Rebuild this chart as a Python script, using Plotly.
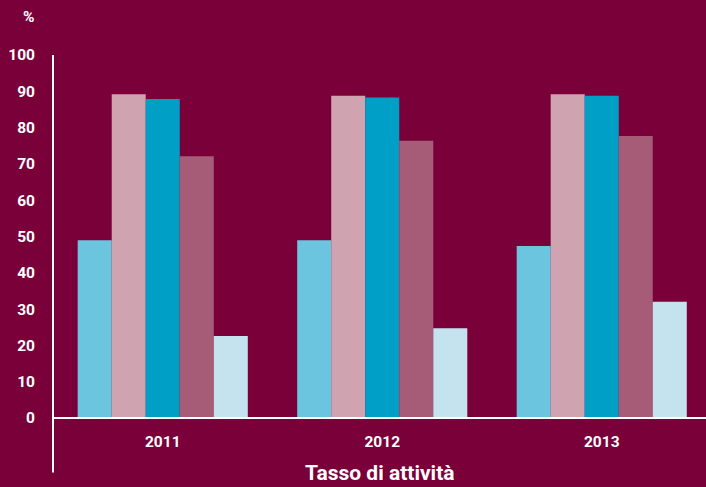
import plotly.graph_objects as go

# Activity rate (%) by year, five population groups
years = ["2011", "2012", "2013"]
group_a = [49.0, 49.0, 47.4]
group_b = [89.2, 88.8, 89.2]
group_c = [87.9, 88.3, 88.8]
group_d = [72.1, 76.4, 77.7]
group_e = [22.6, 24.7, 32.0]

series = [group_a, group_b, group_c, group_d, group_e]
colors = ["#6cc5de", "#d0a3b0", "#009fc5", "#a65c77", "#c5e3ee"]
y_ticks = list(range(0, 101, 10))

BG = "#7a0039"
FONT = "Roboto"

fig = go.Figure()
for vals, col in zip(series, colors):
    fig.add_trace(go.Bar(
        x=years, y=vals,
        marker=dict(color=col, line=dict(width=0)),
        showlegend=False,
    ))

fig.update_layout(
    width=706, height=487,
    margin=dict(l=53, r=0, t=55, b=69),
    paper_bgcolor=BG, plot_bgcolor=BG,
    barmode="group", bargap=0.225, bargroupgap=0,
    font=dict(family=FONT, color="white"),
    xaxis=dict(
        type="category", range=[-0.5, 2.475],
        showgrid=False, zeroline=False, showline=False,
        ticks="", tickfont=dict(size=15.5, family=FONT, weight="bold"),
        ticklabelstandoff=12,
    ),
    yaxis=dict(
        range=[0, 100], tickvals=y_ticks, showgrid=False, zeroline=False,
        showline=False, ticks="",
        tickfont=dict(size=15.5, family=FONT, weight="bold"),
        ticklabelstandoff=17,
    ),
    shapes=[
        # y axis line, extending down past the category labels
        dict(type="line", xref="paper", yref="paper", x0=0, x1=0,
             y0=-0.15, y1=1.0, line=dict(color="white", width=2)),
        # x axis baseline running to the right edge
        dict(type="line", xref="paper", yref="paper", x0=0, x1=1.0,
             y0=0, y1=0, line=dict(color="white", width=2)),
    ],
    annotations=[
        dict(text="%", xref="paper", yref="paper", x=-0.026, y=1.105,
             xanchor="right", yanchor="middle", showarrow=False,
             font=dict(size=15.5, family=FONT, weight="bold", color="white")),
        dict(text="Tasso di attività", xref="paper", yref="paper", x=0.50,
             y=-0.152, xanchor="center", yanchor="middle", showarrow=False,
             font=dict(size=21, family=FONT, weight="bold", color="white")),
    ],
)

fig.write_html("out.html")
